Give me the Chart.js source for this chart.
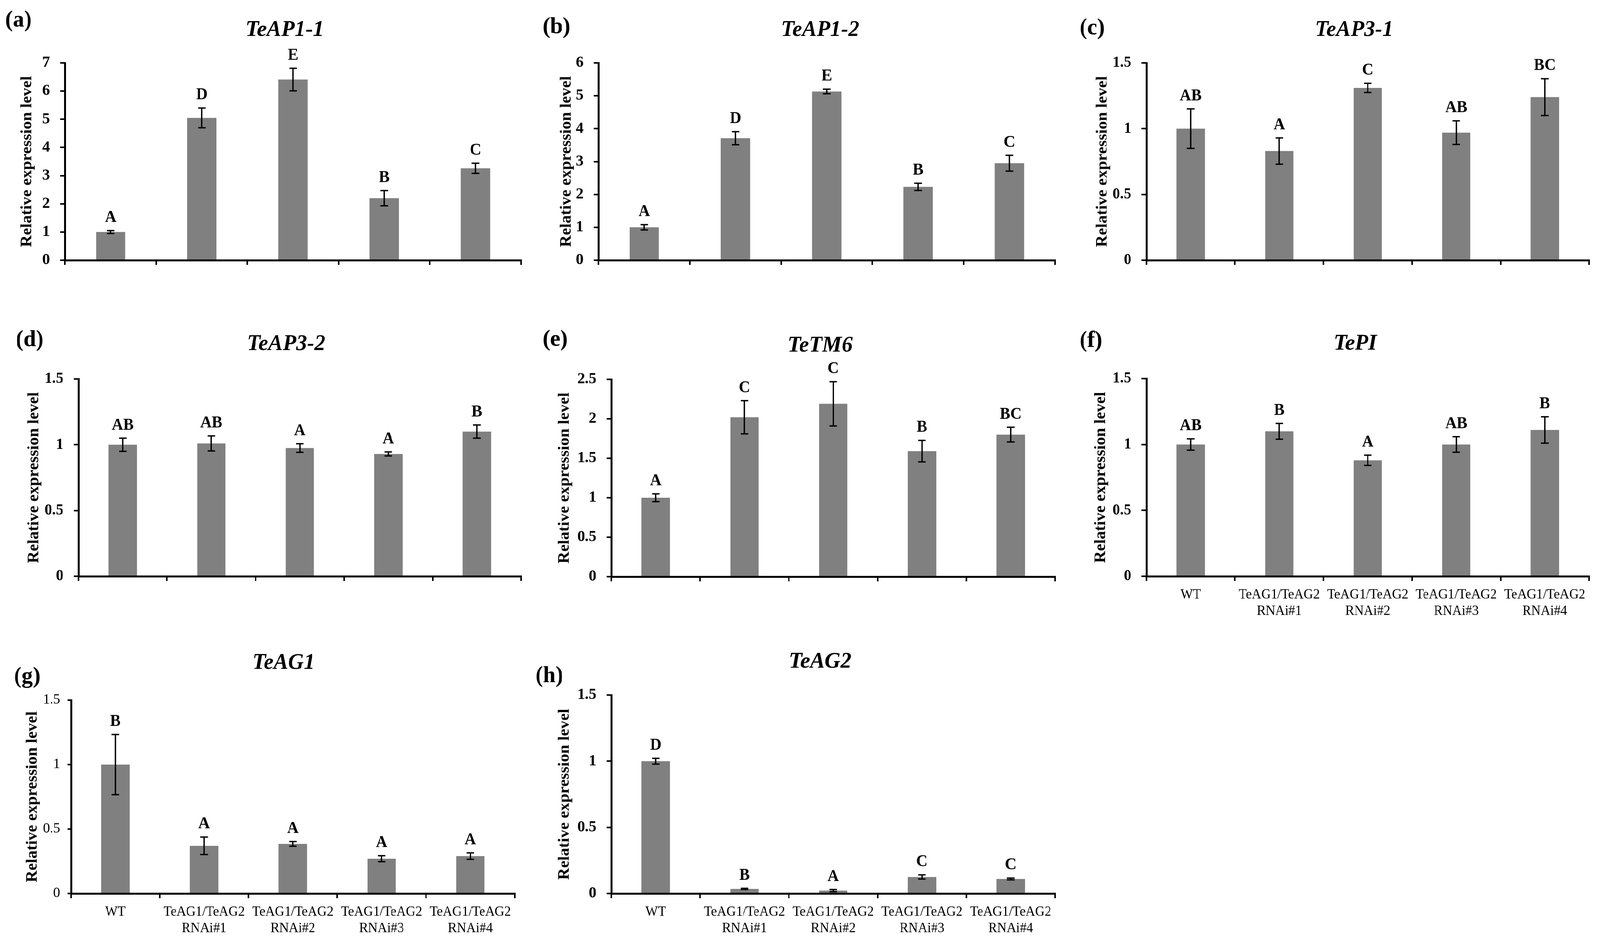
<!DOCTYPE html>
<html>
<head>
<meta charset="utf-8">
<script src="https://cdn.jsdelivr.net/npm/chart.js@4.4.1/dist/chart.umd.min.js"></script>
<style>
  html, body { margin: 0; padding: 0; background: #fff; overflow: hidden; }
  #page { position: relative; width: 4237px; height: 2406px; transform-origin: 0 0; }
  canvas { position: absolute; }
</style>
</head>
<body>
<div id="page"></div>
<script>
// x categories (only shown under f, g, h)
const groups = ['WT', ['TeAG1/TeAG2', 'RNAi#1'], ['TeAG1/TeAG2', 'RNAi#2'], ['TeAG1/TeAG2', 'RNAi#3'], ['TeAG1/TeAG2', 'RNAi#4']];

// (a) TeAP1-1
const ap11Mean = [1.0, 5.05, 6.41, 2.2, 3.26];
const ap11Err = [0.05, 0.35, 0.4, 0.27, 0.18];
const ap11Sig = ['A', 'D', 'E', 'B', 'C'];

// (b) TeAP1-2
const ap12Mean = [1.0, 3.71, 5.13, 2.23, 2.95];
const ap12Err = [0.08, 0.2, 0.07, 0.11, 0.24];
const ap12Sig = ['A', 'D', 'E', 'B', 'C'];

// (c) TeAP3-1
const ap31Mean = [1.0, 0.83, 1.31, 0.97, 1.24];
const ap31Err = [0.15, 0.1, 0.035, 0.09, 0.14];
const ap31Sig = ['AB', 'A', 'C', 'AB', 'BC'];

// (d) TeAP3-2
const ap32Mean = [1.0, 1.01, 0.975, 0.93, 1.1];
const ap32Err = [0.05, 0.057, 0.033, 0.015, 0.05];
const ap32Sig = ['AB', 'AB', 'A', 'A', 'B'];

// (e) TeTM6
const tm6Mean = [1.0, 2.02, 2.19, 1.59, 1.8];
const tm6Err = [0.05, 0.21, 0.28, 0.136, 0.093];
const tm6Sig = ['A', 'C', 'C', 'B', 'BC'];

// (f) TePI
const piMean = [1.0, 1.1, 0.88, 1.0, 1.11];
const piErr = [0.043, 0.06, 0.039, 0.059, 0.1];
const piSig = ['AB', 'B', 'A', 'AB', 'B'];

// (g) TeAG1
const ag1Mean = [1.0, 0.37, 0.385, 0.27, 0.29];
const ag1Err = [0.233, 0.068, 0.018, 0.023, 0.025];
const ag1Sig = ['B', 'A', 'A', 'A', 'A'];

// (h) TeAG2
const ag2Mean = [1.0, 0.035, 0.022, 0.125, 0.11];
const ag2Err = [0.022, 0.004, 0.008, 0.016, 0.007];
const ag2Sig = ['D', 'B', 'A', 'C', 'C'];

const yTitle = 'Relative expression level';
const serif = '"Liberation Serif", "Times New Roman", serif';

// where each panel sits on the page
const panels = [
  {tag: '(a)', gene: 'TeAP1-1', mean: ap11Mean, err: ap11Err, sig: ap11Sig, max: 7, step: 1, labels: false,
   box: {x: 0, y: 0, w: 1400, h: 800}, area: {l: 172, t: 161, r: 1380, b: 666}, title: {x: 754, y: 77}, tagPos: {x: 14, y: 52}, yTitleX: 72},
  {tag: '(b)', gene: 'TeAP1-2', mean: ap12Mean, err: ap12Err, sig: ap12Sig, max: 6, step: 1, labels: false,
   box: {x: 1400, y: 0, w: 1440, h: 800}, area: {l: 1585, t: 161, r: 2794, b: 666}, title: {x: 2172, y: 77}, tagPos: {x: 1437, y: 69}, yTitleX: 1500},
  {tag: '(c)', gene: 'TeAP3-1', mean: ap31Mean, err: ap31Err, sig: ap31Sig, max: 1.5, step: 0.5, labels: false,
   box: {x: 2840, y: 0, w: 1397, h: 800}, area: {l: 3036, t: 161, r: 4208, b: 666}, title: {x: 3586, y: 77}, tagPos: {x: 2859, y: 72}, yTitleX: 2920},
  {tag: '(d)', gene: 'TeAP3-2', mean: ap32Mean, err: ap32Err, sig: ap32Sig, max: 1.5, step: 0.5, labels: false,
   box: {x: 0, y: 800, w: 1400, h: 850}, area: {l: 208, t: 970, r: 1380, b: 1475}, title: {x: 758, y: 881}, tagPos: {x: 42, y: 870}, yTitleX: 90},
  {tag: '(e)', gene: 'TeTM6', mean: tm6Mean, err: tm6Err, sig: tm6Sig, max: 2.5, step: 0.5, labels: false,
   box: {x: 1400, y: 800, w: 1440, h: 850}, area: {l: 1619, t: 971, r: 2794, b: 1476}, title: {x: 2172, y: 885}, tagPos: {x: 1437, y: 869}, yTitleX: 1495},
  {tag: '(f)', gene: 'TePI', mean: piMean, err: piErr, sig: piSig, max: 1.5, step: 0.5, labels: true,
   box: {x: 2840, y: 800, w: 1397, h: 850}, area: {l: 3036, t: 969, r: 4208, b: 1475}, title: {x: 3589, y: 880}, tagPos: {x: 2859, y: 872}, yTitleX: 2915},
  {tag: '(g)', gene: 'TeAG1', mean: ag1Mean, err: ag1Err, sig: ag1Sig, max: 1.5, step: 0.5, labels: true,
   box: {x: 0, y: 1650, w: 1400, h: 756}, area: {l: 188, t: 1792, r: 1363, b: 2287}, title: {x: 751, y: 1697}, tagPos: {x: 37, y: 1732}, yTitleX: 86,
   tickFont: {size: 36, weight: 'normal'}, tickPad: 20, tickLen: 9},
  {tag: '(h)', gene: 'TeAG2', mean: ag2Mean, err: ag2Err, sig: ag2Sig, max: 1.5, step: 0.5, labels: true,
   box: {x: 1400, y: 1650, w: 1440, h: 756}, area: {l: 1619, t: 1779, r: 2794, b: 2287}, title: {x: 2172, y: 1694}, tagPos: {x: 1418, y: 1730}, yTitleX: 1495}
];

// error bars + significance letters
const errorBars = {
  id: 'errorBars',
  afterDatasetsDraw(chart, args, opts) {
    const ctx = chart.ctx;
    const y = chart.scales.y;
    const meta = chart.getDatasetMeta(0);
    ctx.save();
    ctx.strokeStyle = '#000';
    ctx.lineWidth = 3.5;
    ctx.fillStyle = '#000';
    ctx.font = 'bold 42px ' + serif;
    ctx.textAlign = 'center';
    ctx.textBaseline = 'alphabetic';
    meta.data.forEach(function (bar, i) {
      const top = y.getPixelForValue(opts.mean[i] + opts.err[i]);
      const bot = y.getPixelForValue(opts.mean[i] - opts.err[i]);
      ctx.beginPath();
      ctx.moveTo(bar.x, top);
      ctx.lineTo(bar.x, bot);
      ctx.moveTo(bar.x - 10, top);
      ctx.lineTo(bar.x + 10, top);
      ctx.moveTo(bar.x - 10, bot);
      ctx.lineTo(bar.x + 10, bot);
      ctx.stroke();
      ctx.fillText(opts.sig[i], bar.x, top - 22);
    });
    ctx.restore();
  }
};

// panel tag, gene title, rotated y title
const panelText = {
  id: 'panelText',
  afterDraw(chart, args, opts) {
    const ctx = chart.ctx;
    const area = chart.chartArea;
    ctx.save();
    ctx.fillStyle = '#000';
    ctx.textBaseline = 'middle';

    ctx.font = 'bold italic 58px ' + serif;
    ctx.textAlign = 'center';
    ctx.fillText(opts.gene, opts.titleX, opts.titleY);

    ctx.font = 'bold 60px ' + serif;
    ctx.textAlign = 'left';
    ctx.fillText(opts.tag, opts.tagX, opts.tagY);

    ctx.translate(opts.yTitleX, (area.top + area.bottom) / 2);
    ctx.rotate(-Math.PI / 2);
    ctx.font = 'bold 42px ' + serif;
    ctx.textAlign = 'center';
    ctx.fillText(yTitle, 0, 0);
    ctx.restore();
  }
};

const page = document.getElementById('page');

// fit the 4237x2406 layout into whatever viewport we get
const vw = document.documentElement.clientWidth || window.innerWidth;
const vh = document.documentElement.clientHeight || window.innerHeight;
page.style.transform = 'scale(' + (vw / 4237) + ',' + (vh / 2406) + ')';

panels.forEach(function (p) {
  const canvas = document.createElement('canvas');
  canvas.width = p.box.w;
  canvas.height = p.box.h;
  canvas.style.left = p.box.x + 'px';
  canvas.style.top = p.box.y + 'px';
  canvas.style.width = p.box.w + 'px';
  canvas.style.height = p.box.h + 'px';
  page.appendChild(canvas);

  const yW = 100;
  const xH = p.labels ? 110 : 30;
  const tf = p.tickFont || {size: 40, weight: 'bold'};

  new Chart(canvas, {
    type: 'bar',
    data: {
      labels: groups,
      datasets: [{
        data: p.mean,
        backgroundColor: '#808080',
        borderWidth: 0,
        barPercentage: 0.32,
        categoryPercentage: 1
      }]
    },
    options: {
      responsive: false,
      devicePixelRatio: 1,
      animation: false,
      layout: {
        padding: {
          left: p.area.l - p.box.x - yW,
          top: p.area.t - p.box.y,
          right: p.box.x + p.box.w - p.area.r,
          bottom: p.box.y + p.box.h - p.area.b - xH
        }
      },
      plugins: {
        legend: {display: false},
        tooltip: {enabled: false},
        errorBars: {mean: p.mean, err: p.err, sig: p.sig},
        panelText: {
          gene: p.gene, tag: p.tag,
          titleX: p.title.x - p.box.x, titleY: p.title.y - p.box.y,
          tagX: p.tagPos.x - p.box.x, tagY: p.tagPos.y - p.box.y,
          yTitleX: p.yTitleX - p.box.x
        }
      },
      scales: {
        x: {
          z: 1,
          afterFit: function (scale) { scale.height = xH; },
          grid: {
            offset: true,
            drawOnChartArea: false,
            drawTicks: true,
            tickLength: 12,
            color: '#000',
            lineWidth: 4
          },
          border: {display: true, color: '#000', width: 5},
          ticks: {
            display: p.labels,
            color: '#000',
            padding: 15,
            maxRotation: 0,
            autoSkip: false,
            font: {family: serif, size: 35}
          }
        },
        y: {
          z: 1,
          min: 0,
          max: p.max,
          afterFit: function (scale) { scale.width = yW; },
          grid: {
            drawOnChartArea: false,
            drawTicks: true,
            tickLength: p.tickLen || 13,
            color: '#000',
            lineWidth: 4
          },
          border: {display: true, color: '#000', width: 5},
          ticks: {
            stepSize: p.step,
            color: '#000',
            padding: p.tickPad || 27,
            font: {family: serif, size: tf.size, weight: tf.weight},
            callback: function (v) { return String(Math.round(v * 10) / 10); }
          }
        }
      }
    },
    plugins: [errorBars, panelText]
  });
});
</script>
</body>
</html>
